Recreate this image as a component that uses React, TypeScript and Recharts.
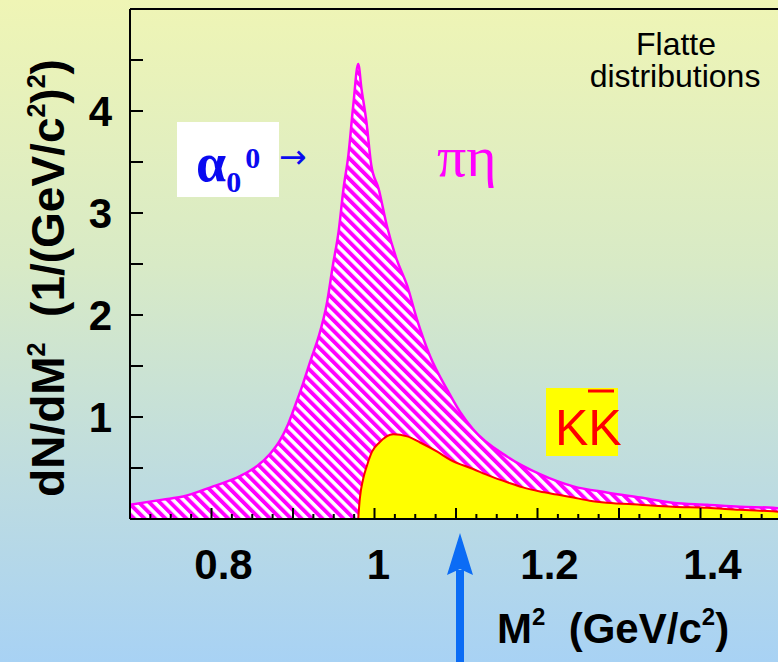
import React from "react"
import { AreaChart, Area, XAxis, YAxis, ReferenceLine } from "recharts"

// pi-eta Flatte distribution (hatched)
const piEtaM = [0.7, 0.74, 0.765, 0.802, 0.835, 0.856, 0.872, 0.884, 0.894, 0.903, 0.912, 0.921, 0.933, 0.941, 0.949, 0.956, 0.962, 0.968, 0.974, 0.98, 0.984, 0.99, 0.996, 1.005, 1.015, 1.027, 1.04, 1.052, 1.068, 1.089, 1.105, 1.121, 1.163, 1.203, 1.244, 1.285, 1.326, 1.366, 1.408, 1.448, 1.489, 1.5]
const piEtaV = [0.14, 0.19, 0.22, 0.32, 0.42, 0.52, 0.64, 0.77, 0.93, 1.12, 1.32, 1.54, 1.83, 2.09, 2.49, 2.82, 3.24, 3.57, 4.06, 4.46, 4.22, 3.9, 3.47, 3.24, 2.88, 2.55, 2.29, 1.96, 1.6, 1.27, 1.05, 0.88, 0.61, 0.44, 0.32, 0.26, 0.21, 0.16, 0.14, 0.12, 0.11, 0.1]

// K Kbar distribution (yellow), starts at threshold
const kkM = [0.98, 0.982, 0.986, 0.991, 0.997, 1.006, 1.023, 1.04, 1.056, 1.077, 1.093, 1.121, 1.142, 1.163, 1.182, 1.203, 1.224, 1.244, 1.264, 1.285, 1.326, 1.366, 1.408, 1.448, 1.489, 1.5]
const kkV = [0, 0.2, 0.39, 0.53, 0.66, 0.75, 0.83, 0.81, 0.75, 0.66, 0.58, 0.49, 0.42, 0.36, 0.31, 0.27, 0.24, 0.21, 0.18, 0.16, 0.14, 0.12, 0.11, 0.09, 0.075, 0.07]

const xTicks = [0.7, 0.725, 0.75, 0.775, 0.8, 0.825, 0.85, 0.875, 0.9, 0.925, 0.95, 0.975, 1.0, 1.025, 1.05, 1.075, 1.1, 1.125, 1.15, 1.175, 1.2, 1.225, 1.25, 1.275, 1.3, 1.325, 1.35, 1.375, 1.4, 1.425, 1.45, 1.475, 1.5]
const xLabelValues = [0.8, 1.0, 1.2, 1.4]
const xLabelText = ["0.8", "1", "1.2", "1.4"]
const xLabelShift = [12, 4, 12, 12]
const yTicks = [0.5, 1, 1.5, 2, 2.5, 3, 3.5, 4, 4.5]

const SANS = "'Liberation Sans', Arial, Helvetica, sans-serif"
const SERIF = "'Liberation Serif', 'Times New Roman', serif"

const piEtaData = piEtaM.map((m, i) => ({ m2: m, v: piEtaV[i] }))
const kkData = kkM.map((m, i) => ({ m2: m, v: kkV[i] }))

function XTick({ x, y, payload }: any) {
  const v = payload.value
  const major = Math.abs(v * 10 - Math.round(v * 10)) < 1e-6
  const idx = xLabelValues.findIndex((l) => Math.abs(l - v) < 1e-6)
  return (
    <g>
      <line x1={x} x2={x} y1={y} y2={y - (major ? 11 : 5)} stroke="#000" strokeWidth={2} />
      {idx >= 0 && (
        <text x={x + xLabelShift[idx]} y={y + 60} textAnchor="middle" fontSize={42} fontWeight="bold" fontFamily={SANS} fill="#000">
          {xLabelText[idx]}
        </text>
      )}
    </g>
  )
}

export default function App() {
  return (
    <div
      style={{
        position: "absolute",
        left: 0,
        top: 0,
        width: 778,
        height: 662,
        overflow: "hidden",
        background: "linear-gradient(to bottom, #eff5b5 0%, #d8eac6 40%, #bcdbe2 75%, #a8d2f4 100%)",
      }}
    >
      <div style={{ position: "absolute", left: 0, top: 0 }}>
        <AreaChart width={800} height={662} margin={{ top: 9, right: 18, left: 129, bottom: 142 }}>
          <defs>
            <pattern id="hatch" patternUnits="userSpaceOnUse" width="7.4" height="7.4" patternTransform="rotate(-45)">
              <rect width="7.4" height="7.4" fill="#ffffff" />
              <rect width="3.9" height="7.4" fill="#ff00ff" />
            </pattern>
          </defs>
          <XAxis
            dataKey="m2"
            type="number"
            domain={[0.7, 1.5]}
            allowDataOverflow
            ticks={xTicks}
            interval={0}
            height={1}
            tickSize={0}
            tickMargin={0}
            tickLine={false}
            tick={<XTick />}
            axisLine={{ stroke: "#000", strokeWidth: 2 }}
          />
          <YAxis
            type="number"
            domain={[0, 5]}
            allowDataOverflow
            ticks={yTicks}
            interval={0}
            width={1}
            tickSize={-13}
            tickMargin={31}
            tickFormatter={(v: number) => (Number.isInteger(v) ? String(v) : "")}
            tick={{ fontSize: 42, fontWeight: "bold", fill: "#000", fontFamily: SANS }}
            tickLine={{ stroke: "#000", strokeWidth: 2 }}
            axisLine={{ stroke: "#000", strokeWidth: 2 }}
          />
          <ReferenceLine y={5} stroke="#000" strokeWidth={2} />
          <Area
            data={piEtaData}
            dataKey="v"
            type="monotone"
            stroke="#ff00ff"
            strokeWidth={2.5}
            fill="url(#hatch)"
            fillOpacity={1}
            isAnimationActive={false}
          />
          <Area
            data={kkData}
            dataKey="v"
            type="monotone"
            stroke="#ff0000"
            strokeWidth={2}
            fill="#ffff00"
            fillOpacity={1}
            isAnimationActive={false}
          />
        </AreaChart>
      </div>

      <svg width={778} height={662} style={{ position: "absolute", left: 0, top: 0, pointerEvents: "none" }}>
        {/* y title */}
        <text
          transform="translate(64,278) rotate(-90)"
          textAnchor="middle"
          fontSize={46}
          fontWeight="bold"
          fontFamily={SANS}
          fill="#000"
          style={{ whiteSpace: "pre" }}
        >
          dN/dM<tspan fontSize={25} dy={-19}>2</tspan>
          <tspan dy={19}>{"  (1/(GeV/c"}</tspan>
          <tspan fontSize={25} dy={-19}>2</tspan>
          <tspan dy={19}>)</tspan>
          <tspan fontSize={25} dy={-19}>2</tspan>
          <tspan dy={19}>)</tspan>
        </text>

        {/* x title */}
        <text x={497} y={643} fontSize={42} fontWeight="bold" fontFamily={SANS} fill="#000" style={{ whiteSpace: "pre" }}>
          M<tspan fontSize={24} dy={-18}>2</tspan>
          <tspan dy={18}>{"  (GeV/c"}</tspan>
          <tspan fontSize={24} dy={-18}>2</tspan>
          <tspan dy={18}>)</tspan>
        </text>

        {/* Flatte */}
        <text x={676} y={55} textAnchor="middle" fontSize={32} fontFamily={SANS} fill="#000">Flatte</text>
        <text x={675} y={87} textAnchor="middle" fontSize={32} fontFamily={SANS} fill="#000">distributions</text>

        {/* a0 label */}
        <rect x={177} y={122} width={102} height={75} fill="#ffffff" />
        <text x={196} y={181} fontFamily={SERIF} fontWeight="bold" fill="#0a0af0" fontSize={54}>
          α<tspan fontSize={30} dy={11}>0</tspan>
          <tspan fontSize={30} dx={4} dy={-24}>0</tspan>
        </text>
        <text x={279} y={168} fontFamily="'DejaVu Sans', sans-serif" fill="#0a0af0" fontSize={33}>→</text>

        {/* pi eta */}
        <text x={437} y={176} fontFamily={SERIF} fill="#ff00ff" fontSize={58}>πη</text>

        {/* K Kbar */}
        <rect x={546} y={388} width={72} height={68} fill="#ffff00" />
        <text x={555} y={445} fontFamily={SANS} fill="#ff0000" fontSize={50}>KK</text>
        <line x1={588} x2={614} y1={391} y2={391} stroke="#ff0000" strokeWidth={3} />

        {/* blue arrow */}
        <rect x={456} y={570} width={8} height={92} fill="#0b6cf5" />
        <polygon points="460,533 473,575 460,569 447,575" fill="#0b6cf5" />
      </svg>
    </div>
  )
}
